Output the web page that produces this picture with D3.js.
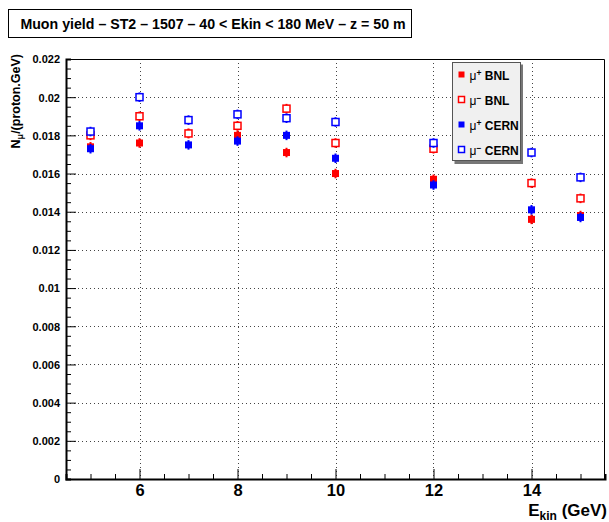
<!DOCTYPE html>
<html>
<head>
<meta charset="utf-8">
<script src="https://cdn.jsdelivr.net/npm/d3@7"></script>
<style>
  body { margin: 0; background: #fff; }
  text { font-family: "Liberation Sans", Arial, sans-serif; font-weight: bold; }
</style>
</head>
<body>
<svg id="plot" width="609" height="522"></svg>
<script>
// energies (GeV)
const energies = [5, 6, 7, 8, 9, 10, 12, 14, 15];

// muon yields per series
const muPlusBNL   = [0.0174, 0.0176, 0.0181, 0.0180, 0.0171, 0.0160, 0.0157, 0.0136, 0.0138];
const muMinusBNL  = [0.0180, 0.0190, 0.0181, 0.0185, 0.0194, 0.0176, 0.0173, 0.0155, 0.0147];
const muPlusCERN  = [0.0173, 0.0185, 0.0175, 0.0177, 0.0180, 0.0168, 0.0154, 0.0141, 0.0137];
const muMinusCERN = [0.0182, 0.0200, 0.0188, 0.0191, 0.0189, 0.0187, 0.0176, 0.0171, 0.0158];
const yieldErr = 0.00025;

const yTicks = [0, 0.002, 0.004, 0.006, 0.008, 0.01, 0.012, 0.014, 0.016, 0.018, 0.02, 0.022];
const xTicks = [6, 8, 10, 12, 14];

const series = [
    { name: "BNL",  sign: "+", color: "#ff0000", filled: true,  values: muPlusBNL },
    { name: "BNL",  sign: "−", color: "#ff0000", filled: false, values: muMinusBNL },
    { name: "CERN", sign: "+", color: "#0000ff", filled: true,  values: muPlusCERN },
    { name: "CERN", sign: "−", color: "#0000ff", filled: false, values: muMinusCERN }
];

const frame = { left: 66, right: 605, top: 59, bottom: 479 };

const svg = d3.select("svg#plot");

const x = d3.scaleLinear().domain([4.5, 15.5]).range([frame.left, frame.right]);
const y = d3.scaleLinear().domain([0, 0.022]).range([frame.bottom, frame.top]);

// title box
svg.append("rect")
    .attr("x", 8.5).attr("y", 9.5).attr("width", 403).attr("height", 28)
    .attr("fill", "#fff").attr("stroke", "#000");
svg.append("text")
    .attr("x", 213).attr("y", 29)
    .attr("text-anchor", "middle")
    .attr("font-size", 14.2)
    .text("Muon yield – ST2 – 1507 – 40 < Ekin < 180 MeV – z = 50 m");

// grid
const grid = svg.append("g")
    .attr("stroke", "#444").attr("stroke-dasharray", "1,3").attr("stroke-width", 1);
grid.selectAll("line.gx").data(xTicks).join("line")
    .attr("x1", d => Math.round(x(d)) + 0.5).attr("x2", d => Math.round(x(d)) + 0.5)
    .attr("y1", frame.top).attr("y2", frame.bottom);
grid.selectAll("line.gy").data(yTicks.slice(1, -1)).join("line")
    .attr("y1", d => Math.round(y(d)) + 0.5).attr("y2", d => Math.round(y(d)) + 0.5)
    .attr("x1", frame.left).attr("x2", frame.right);

// axes (ROOT style: ticks inside the frame)
const xAxis = svg.append("g")
    .attr("transform", `translate(0,${frame.bottom})`)
    .call(d3.axisBottom(x).tickValues(d3.range(5, 15.51, 0.5)).tickSize(-5).tickFormat(""));
xAxis.selectAll(".tick line").filter(d => xTicks.includes(d)).attr("y2", -10);
xAxis.select(".domain").attr("stroke-width", 2);
xAxis.selectAll(".tick").filter(d => xTicks.includes(d)).append("text")
    .attr("y", 17).attr("fill", "#000").attr("font-size", 16.5)
    .attr("text-anchor", "middle")
    .text(d => d);

const yAxis = svg.append("g")
    .attr("transform", `translate(${frame.left},0)`)
    .call(d3.axisLeft(y).tickValues(d3.range(0, 0.02201, 0.0005)).tickSize(-5).tickFormat(""));
yAxis.selectAll(".tick line")
    .filter(d => yTicks.some(t => Math.abs(t - d) < 1e-9)).attr("x2", 10);
yAxis.select(".domain").attr("stroke-width", 2);
yAxis.selectAll(".tick").filter(d => yTicks.some(t => Math.abs(t - d) < 1e-9)).append("text")
    .attr("x", -6).attr("dy", "0.35em").attr("fill", "#000").attr("font-size", 11)
    .attr("text-anchor", "end")
    .text(d => d3.format("~g")(+d.toFixed(4)));
svg.selectAll(".tick text").attr("font-family", null);
svg.selectAll(".domain").attr("stroke", "#000");

// top and right frame lines
svg.append("path")
    .attr("d", `M${frame.left},${frame.top + 0.5}H${frame.right - 0.5}V${frame.bottom}`)
    .attr("fill", "none").attr("stroke", "#000");

// axis titles
svg.append("text")
    .attr("transform", `translate(20,${frame.top - 5}) rotate(-90)`)
    .attr("text-anchor", "end").attr("font-size", 12.5)
    .html('N<tspan font-size="9" dy="3">μ</tspan><tspan dy="-3">/(proton.GeV)</tspan>');
svg.append("text")
    .attr("x", 607).attr("y", 516)
    .attr("text-anchor", "end").attr("font-size", 17)
    .html('E<tspan font-size="12" dy="3.5">kin</tspan><tspan dy="-3.5"> (GeV)</tspan>');

// data points
const ms = 7;
series.forEach(s => {
    const g = svg.append("g");
    const pts = energies.map((e, i) => ({ e, v: s.values[i] }));
    g.selectAll("line").data(pts).join("line")
        .attr("x1", d => x(d.e)).attr("x2", d => x(d.e))
        .attr("y1", d => y(d.v - yieldErr)).attr("y2", d => y(d.v + yieldErr))
        .attr("stroke", s.color).attr("stroke-width", 2);
    g.selectAll("rect").data(pts).join("rect")
        .attr("x", d => x(d.e) - ms / 2).attr("y", d => y(d.v) - ms / 2)
        .attr("width", ms).attr("height", ms)
        .attr("fill", s.filled ? s.color : "#fff")
        .attr("stroke", s.color).attr("stroke-width", s.filled ? 0 : 1.5);
});

// legend
const leg = svg.append("g").attr("transform", "translate(452.5,62.5)");
leg.append("path").attr("d", "M69,2V100H2").attr("fill", "none").attr("stroke", "#777").attr("stroke-width", 3);
leg.append("rect").attr("width", 68).attr("height", 98)
    .attr("fill", "#f0f0f0").attr("stroke", "#555");
series.forEach((s, i) => {
    const cy = 12.5 + i * 25;
    leg.append("rect")
        .attr("x", 9 - ms / 2 + 0.5).attr("y", cy - ms / 2)
        .attr("width", ms - 1).attr("height", ms - 1)
        .attr("fill", s.filled ? s.color : "#fff")
        .attr("stroke", s.color).attr("stroke-width", s.filled ? 0 : 1.5);
    leg.append("text")
        .attr("x", 17).attr("y", cy + 4.5).attr("font-size", 12)
        .html(`<tspan font-weight="normal">μ</tspan><tspan font-size="8.5" dy="-4">${s.sign}</tspan><tspan dy="4"> ${s.name}</tspan>`);
});
</script>
</body>
</html>
